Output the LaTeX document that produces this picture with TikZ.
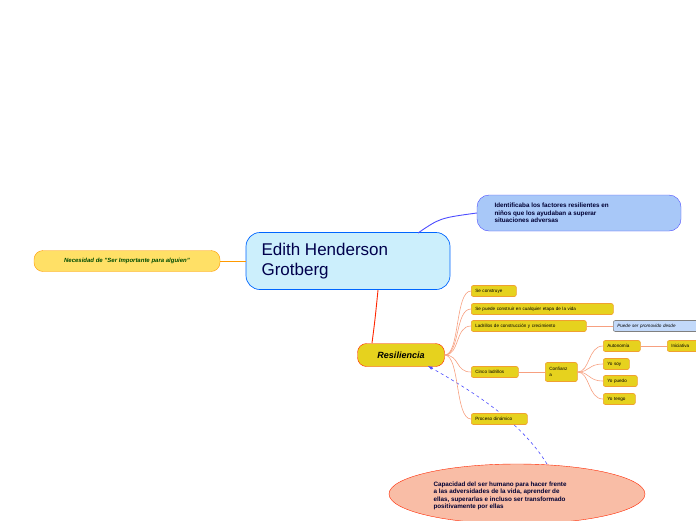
\documentclass[tikz,border=0pt]{standalone}
\usepackage{fontspec}
\setmainfont{Liberation Sans}
\usetikzlibrary{shapes.geometric}
\definecolor{yel}{HTML}{E6D21E}
\definecolor{yelb}{HTML}{F0A030}
\definecolor{sal}{HTML}{F7A080}
\definecolor{lb}{HTML}{A8C8F8}
\begin{document}
\begin{tikzpicture}[x=1pt,y=-1pt,
 sm/.style={draw=yelb,fill=yel,rounded corners=2pt,line width=0.6pt,font=\fontsize{4.6}{5.4}\selectfont,inner xsep=4pt,inner ysep=0pt,minimum height=11pt,anchor=west,align=left},
 br/.style={draw=sal,line width=0.6pt}]
\useasboundingbox (0,0) rectangle (696,520);
\clip (0,0) rectangle (696,520);
\node[draw=blue!60!cyan,fill=cyan!20,rounded corners=14pt,minimum width=204pt,minimum height=57pt,line width=0.7pt] (e) at (348,261) {};
\node[font=\fontsize{17}{20}\selectfont,text=blue!30!black,align=left,anchor=west] at (258,261) {Edith Henderson\\Grotberg};
\node[draw=orange!80!yellow,fill=orange!40!yellow!60,rounded corners=9pt,minimum width=186pt,minimum height=21pt,font=\fontsize{6}{7}\selectfont\bfseries\itshape,text=green!30!black] (n) at (127,261) {Necesidad de "Ser Importante para alguien"};
\node[draw=blue!70,fill=lb,rounded corners=12pt,minimum width=204pt,minimum height=36pt] (i) at (579,213) {};
\node[font=\fontsize{6.3}{7.4}\selectfont\bfseries,text=blue!20!black,align=left,anchor=west] at (491,213) {Identificaba los factores resilientes en\\niños que los ayudaban a superar\\situaciones adversas};
\node[draw=red!70!orange,fill=yel,rounded corners=9pt,minimum width=87pt,minimum height=23pt,font=\fontsize{9}{10}\selectfont\bfseries\itshape] (r) at (401,355) {Resiliencia};
\draw[orange!80!yellow,line width=0.8pt] (n.east) -- (e.west);
\draw[blue!70,line width=0.9pt] (418,233) .. controls (440,218) .. (i.west);
\draw[red!70!orange,line width=0.9pt] (378,290) .. controls (375,320) .. (372,343);
\node[ellipse,draw=red!70!orange,fill=sal!70,minimum width=256pt,minimum height=60pt] (c) at (517,494) {};
\node[font=\fontsize{6.3}{7.4}\selectfont\bfseries,text=blue!20!black,align=left,anchor=west] at (430,496) {Capacidad del ser humano para hacer frente\\a las adversidades de la vida, aprender de\\ellas, superarlas e incluso ser transformado\\positivamente por ellas};
\draw[blue!70,dashed,line width=0.6pt,-latex] (547,464) .. controls (520,420) and (470,390) .. (428,366);
\node[sm,text width=37pt] (a1) at (471,291) {Se construye};
\node[sm,text width=134pt] (a2) at (471,309) {Se puede construir en cualquier etapa de la vida};
\node[sm,text width=107pt] (a3) at (471,326) {Ladrillos de construcción y crecimiento};
\node[sm,text width=92pt,draw=gray,fill=lb!70,font=\fontsize{4.6}{5.4}\selectfont\itshape] (a3b) at (613,326) {Puede ser promovido desde};
\node[sm,text width=39pt] (a4) at (471,372) {Cinco ladrillos};
\node[sm,text width=48pt] (a5) at (471,419) {Proceso dinámico};
\node[sm,text width=24pt,minimum height=19pt] (cf) at (545,372) {Confianz\\a};
\node[sm,text width=29pt] (b1) at (603,346) {Autonomía};
\node[sm,text width=32pt] (b1b) at (667,346) {Iniciativa};
\node[sm,text width=18pt] (b2) at (603,364) {Yo soy};
\node[sm,text width=26pt] (b3) at (603,381) {Yo puedo};
\node[sm,text width=24pt] (b4) at (603,399) {Yo tengo};
\foreach \t in {a1,a2,a3,a4,a5}
 \draw[br] (r.east) .. controls (460,355) and (455,0|-\t.west) .. (\t.west);
\draw[br] (a3.east) -- (a3b.west);
\draw[br] (a4.east) -- (cf.west);
\draw[br] (b1.east) -- (b1b.west);
\foreach \t in {b1,b2,b3,b4}
 \draw[br] (cf.east) .. controls (590,372) and (588,0|-\t.west) .. (\t.west);
\end{tikzpicture}
\end{document}
